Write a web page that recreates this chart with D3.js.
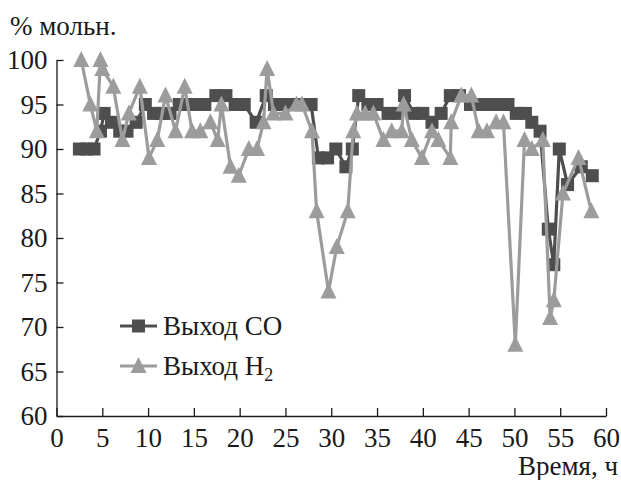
<!DOCTYPE html>
<html>
<head>
<meta charset="utf-8">
<script src="https://cdn.jsdelivr.net/npm/d3@7"></script>
<style>
  body { margin: 0; background: #fff; }
</style>
</head>
<body>
<svg id="chart" width="621" height="480"></svg>
<script>
// Выход CO (% мольн.) по времени, ч
const coTime  = [2.5,3.3,4.1,4.8,5.2,6.0,6.9,7.7,8.7,9.7,10.6,11.5,12.4,13.4,14.3,15.3,16.2,17.4,18.5,19.5,20.5,21.8,22.9,23.8,24.8,25.8,26.8,27.8,28.6,29.6,30.5,31.6,32.3,33.0,34.0,35.0,36.2,37.2,38.0,39.0,40.0,41.0,42.0,43.0,44.0,45.2,46.2,47.2,48.3,49.3,50.2,51.2,51.9,52.8,53.7,54.3,54.9,55.8,57.3,58.5];
const coYield = [90,90,90,92,94,93,92,92,93,95,94,94,94,95,95,95,95,96,96,95,95,93,96,95,95,95,95,95,89,89,90,88,90,96,95,95,94,94,96,94,94,93,94,96,96,95,95,95,95,95,94,94,93,92,81,77,90,86,88,87];

// Выход H2 (% мольн.) по времени, ч
const h2Time  = [2.7,3.7,4.4,4.8,5.0,6.2,7.2,7.9,9.1,10.1,11.0,11.9,13.0,14.0,14.8,15.7,16.8,17.6,18.0,19.0,19.9,21.0,21.9,22.6,23.0,23.7,25.0,26.2,26.8,27.9,28.4,29.7,30.6,31.8,32.4,32.8,33.7,34.6,35.7,36.6,37.7,37.9,38.8,39.9,41.0,41.7,43.0,43.1,44.2,45.3,46.1,47.0,48.0,48.8,50.1,51.1,51.9,53.1,53.9,54.3,55.3,57.0,58.4];
const h2Yield = [100,95,92,100,99,97,91,94,97,89,91,96,92,97,92,92,93,91,95,88,87,90,90,93,99,94,94,95,95,92,83,74,79,83,92,94,94,94,91,92,92,95,91,89,92,91,89,93,96,96,92,92,93,93,68,91,90,91,71,73,85,89,83];

const xTicks = [0,5,10,15,20,25,30,35,40,45,50,55,60];
const yTicks = [60,65,70,75,80,85,90,95,100];
const seriesNames = ["Выход СО", "Выход H"];

const coColor = "#4e4e4e";
const h2Color = "#9c9c9c";
const textColor = "#1a1a1a";
const serif = "'Liberation Serif', 'Times New Roman', Times, Tinos, 'Nimbus Roman', FreeSerif, 'Noto Serif', 'DejaVu Serif', serif";

const svg = d3.select("#chart");
const plotLeft = 56.5, plotRight = 606, plotTop = 60, plotBottom = 416;

const x = d3.scaleLinear().domain([0, 60]).range([plotLeft, plotRight]);
const y = d3.scaleLinear().domain([60, 100]).range([plotBottom, plotTop]);

// axes with inward ticks
const xAxis = d3.axisBottom(x).tickValues(xTicks).tickSizeInner(-8).tickSizeOuter(0).tickPadding(12);
const yAxis = d3.axisLeft(y).tickValues(yTicks).tickSizeInner(-7).tickSizeOuter(0).tickPadding(9);

function label(sel) {
  return sel.style("font-family", serif).style("font-size", "27px").attr("fill", textColor);
}

function styleAxis(g) {
  g.attr("font-family", null).attr("font-size", null);
  g.select(".domain").attr("stroke", textColor).attr("stroke-width", 1.3);
  g.selectAll(".tick line").attr("stroke", textColor).attr("stroke-width", 1.3);
  g.selectAll(".tick text").call(label);
}

svg.append("g").attr("transform", `translate(0,${plotBottom})`).call(xAxis).call(styleAxis);
svg.append("g").attr("transform", `translate(${plotLeft},0)`).call(yAxis).call(styleAxis);

// axis titles
svg.append("text").attr("x", 10).attr("y", 35).call(label).text("% мольн.");
svg.append("text").attr("x", 618).attr("y", 475).attr("text-anchor", "end").call(label).text("Время, ч");

const coData = coTime.map((t, i) => [t, coYield[i]]);
const h2Data = h2Time.map((t, i) => [t, h2Yield[i]]);

const line = d3.line().x(d => x(d[0])).y(d => y(d[1]));

const sq = 13;
function square(g, color) {
  g.append("rect").attr("x", -sq / 2).attr("y", -sq / 2).attr("width", sq).attr("height", sq).attr("fill", color);
}
const triPath = "M0,-9L8,7L-8,7Z";
function triangle(g, color) {
  g.append("path").attr("d", triPath).attr("fill", color);
}

// CO series
svg.append("path").datum(coData).attr("d", line)
  .attr("fill", "none").attr("stroke", coColor).attr("stroke-width", 3.2).attr("stroke-linejoin", "round");
svg.append("g").selectAll("g").data(coData).join("g")
  .attr("transform", d => `translate(${x(d[0])},${y(d[1])})`)
  .each(function () { square(d3.select(this), coColor); });

// H2 series
svg.append("path").datum(h2Data).attr("d", line)
  .attr("fill", "none").attr("stroke", h2Color).attr("stroke-width", 3.2).attr("stroke-linejoin", "round");
svg.append("g").selectAll("g").data(h2Data).join("g")
  .attr("transform", d => `translate(${x(d[0])},${y(d[1])})`)
  .each(function () { triangle(d3.select(this), h2Color); });

// legend
const legend = svg.append("g");
const rows = [
  { name: seriesNames[0], color: coColor, marker: square, y: 326, sub: null },
  { name: seriesNames[1], color: h2Color, marker: triangle, y: 366, sub: "2" }
];
rows.forEach(r => {
  legend.append("line").attr("x1", 120).attr("x2", 157).attr("y1", r.y).attr("y2", r.y)
    .attr("stroke", r.color).attr("stroke-width", 3.2);
  const m = legend.append("g").attr("transform", `translate(138.5,${r.y})`);
  r.marker(m, r.color);
  const t = legend.append("text").attr("x", 163).attr("y", r.y + 9).call(label).text(r.name);
  if (r.sub) {
    t.append("tspan").style("font-size", "18px").attr("dy", 6).text(r.sub);
  }
});
</script>
</body>
</html>
